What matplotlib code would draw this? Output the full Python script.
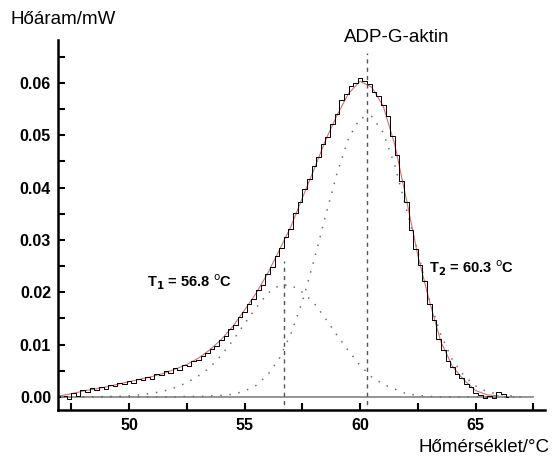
import numpy as np
import matplotlib.pyplot as plt

plt.rcParams['font.family'] = ['Liberation Sans', 'DejaVu Sans']

# measured heat flow (mW), 0.2 degC steps from 47.2 to 66.4
temp = np.round(np.arange(47.2, 66.41, 0.2), 1)
heat = [0.0002, -0.0004, 0.0008, 0.0001, 0.0013, 0.0009, 0.0017, 0.0014, 0.0019, 0.0016,
        0.0023, 0.0020, 0.0027, 0.0024, 0.0031, 0.0027, 0.0035, 0.0032, 0.0039, 0.0035,
        0.0044, 0.0041, 0.0049, 0.0046, 0.0055, 0.0052, 0.0061, 0.0059, 0.0068, 0.0071,
        0.0079, 0.0083, 0.0091, 0.0098, 0.0109, 0.0116, 0.0129, 0.0137, 0.0153, 0.0163,
        0.0177, 0.0188, 0.0205, 0.0214, 0.0234, 0.0248, 0.0270, 0.0284, 0.0306, 0.0320,
        0.0352, 0.0372, 0.0397, 0.0416, 0.0442, 0.0458, 0.0483, 0.0497, 0.0522, 0.0541,
        0.0567, 0.0578, 0.0594, 0.0599, 0.0610, 0.0603, 0.0598, 0.0582, 0.0575, 0.0558,
        0.0537, 0.0498, 0.0462, 0.0413, 0.0372, 0.0318, 0.0283, 0.0253, 0.0222, 0.0178,
        0.0147, 0.0110, 0.0090, 0.0068, 0.0058, 0.0043, 0.0036, 0.0024, 0.0018, 0.0008,
        0.0003, -0.0003, 0.0001, -0.0002, 0.0009, 0.0005, 0.0000]

# fitted sum (red), 0.5 degC steps
fit_t = [47.0, 47.5, 48.0, 48.5, 49.0, 49.5, 50.0, 50.5, 51.0, 51.5, 52.0, 52.5, 53.0, 53.5,
         54.0, 54.5, 55.0, 55.5, 56.0, 56.5, 57.0, 57.5, 58.0, 58.5, 59.0, 59.5, 60.0, 60.5,
         61.0, 61.5, 62.0, 62.5, 63.0, 63.5, 64.0, 64.5, 65.0, 65.5, 66.0]
fit_v = [0.0002, 0.0006, 0.0011, 0.0015, 0.0019, 0.0024, 0.0029, 0.0034, 0.0039, 0.0045,
         0.0053, 0.0062, 0.0074, 0.0090, 0.0110, 0.0135, 0.0166, 0.0198, 0.0236, 0.0280,
         0.0325, 0.0380, 0.0434, 0.0490, 0.0538, 0.0580, 0.0603, 0.0592, 0.0556, 0.0482,
         0.0378, 0.0270, 0.0183, 0.0105, 0.0058, 0.0032, 0.0012, 0.0004, 0.0002]

# fitted components (dotted), 0.5 degC steps
comp_t = [48.0, 48.5, 49.0, 49.5, 50.0, 50.5, 51.0, 51.5, 52.0, 52.5, 53.0, 53.5, 54.0, 54.5,
          55.0, 55.5, 56.0, 56.5, 57.0, 57.5, 58.0, 58.5, 59.0, 59.5, 60.0, 60.5, 61.0, 61.5,
          62.0, 62.5, 63.0, 63.5, 64.0, 64.5, 65.0, 65.5, 66.0, 66.5, 67.0]
comp1 = [0.0, 0.0, 0.0001, 0.0001, 0.0002, 0.0004, 0.0007, 0.0011, 0.0018, 0.0027, 0.0040,
         0.0056, 0.0080, 0.0108, 0.0140, 0.0170, 0.0198, 0.0213, 0.0214, 0.0200, 0.0180,
         0.0150, 0.0118, 0.0088, 0.0060, 0.0038, 0.0024, 0.0015, 0.0006, 0.0003, 0.0001,
         0.0, 0.0, 0.0, 0.0, 0.0, 0.0, 0.0, 0.0]
comp2 = [0.0, 0.0, 0.0, 0.0, 0.0, 0.0, 0.0, 0.0, 0.0, 0.0001, 0.0001, 0.0002, 0.0003, 0.0005,
         0.0011, 0.0022, 0.0042, 0.0073, 0.0120, 0.0182, 0.0260, 0.0345, 0.0427, 0.0494,
         0.0533, 0.0536, 0.0505, 0.0443, 0.0360, 0.0277, 0.0185, 0.0118, 0.0070, 0.0040,
         0.0021, 0.0010, 0.0005, 0.0002, 0.0]

t1, t2 = 56.7, 60.3
ticks_major = [50, 55, 60, 65]

fig = plt.figure(figsize=(5.52, 4.61), dpi=100)
ax = fig.add_axes([58/552, 51/461, 487/552, 370/461])

ax.plot([47.1, 67.5], [0, 0], color='#8c8c8c', lw=1.3)
ax.plot(comp_t, comp1, color='#707070', lw=1.1, ls=(0, (1, 5)))
ax.plot(comp_t, comp2, color='#707070', lw=1.1, ls=(0, (1, 5)))
ax.plot(fit_t, fit_v, color='#d07070', lw=0.8)
ax.plot(temp, heat, color='black', lw=0.7, drawstyle='steps-mid')

ax.plot([t1, t1], [-0.003, 0.026], color='#555555', lw=1.0, ls=(0, (3, 3)))
ax.plot([t2, t2], [-0.003, 0.0658], color='#555555', lw=1.0, ls=(0, (3, 3)))

ax.set_xlim(46.93, 68.0)
ax.set_ylim(-0.0025, 0.0682)
ax.set_xticks(ticks_major)
ax.set_xticks([47.5, 52.5, 57.5, 62.5, 67.5], minor=True)
ax.set_yticks([0.0, 0.01, 0.02, 0.03, 0.04, 0.05, 0.06])
ax.set_yticks([0.005, 0.015, 0.025, 0.035, 0.045, 0.055, 0.065], minor=True)
ax.set_yticklabels(['0.00', '0.01', '0.02', '0.03', '0.04', '0.05', '0.06'])
ax.tick_params(which='both', direction='in', width=1.5, length=5, labelsize=11.5)
ax.tick_params(axis='x', pad=6)
ax.tick_params(axis='y', pad=5)
for lab in ax.get_xticklabels() + ax.get_yticklabels():
    lab.set_fontweight('bold')
for s in ['top', 'right']:
    ax.spines[s].set_visible(False)
for s in ['left', 'bottom']:
    ax.spines[s].set_linewidth(1.8)

ax.text(50.8, 0.0218, 'T$_\\mathbf{1}$ = 56.8 $^\\mathrm{o}$C', fontsize=10.5, fontweight='bold',
        ha='left', va='center')
ax.text(63.0, 0.0245, 'T$_\\mathbf{2}$ = 60.3 $^\\mathrm{o}$C', fontsize=10.5, fontweight='bold',
        ha='left', va='center')

fig.text(10/552, 1 - 19/461, 'Hőáram/mW', fontsize=13.5, ha='left', va='center')
fig.text(397/552, 1 - 38/461, 'ADP-G-aktin', fontsize=13.5, ha='center', va='center')
fig.text(549/552, 1 - 447/461, 'Hőmérséklet/°C', fontsize=13.5, ha='right', va='center')

fig.savefig('out.png', dpi=100)
